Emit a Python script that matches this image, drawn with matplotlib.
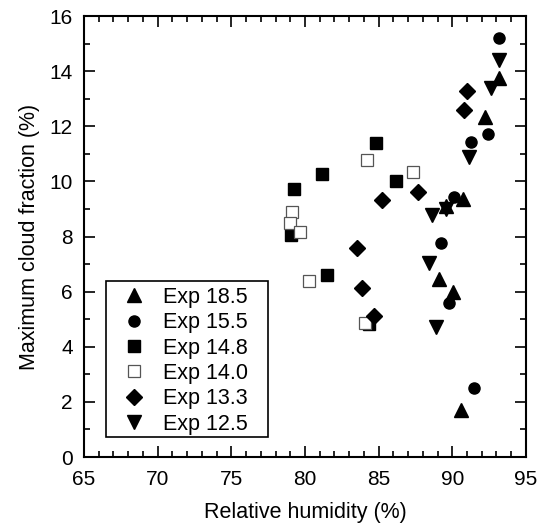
import matplotlib
matplotlib.use("Agg")
import matplotlib.pyplot as plt
from matplotlib.patches import Rectangle

plt.rcParams['font.family'] = ['Liberation Sans', 'DejaVu Sans']

# Exp 18.5 (triangle up)
rh_185 = [93.2, 92.2, 90.7, 89.6, 90.05, 89.1, 90.6]
cf_185 = [13.75, 12.34, 9.36, 9.1, 5.98, 6.46, 1.7]
# Exp 15.5 (circle)
rh_155 = [93.2, 92.4, 91.3, 90.1, 89.2, 89.8, 91.5]
cf_155 = [15.2, 11.72, 11.42, 9.44, 7.76, 5.58, 2.5]
# Exp 14.8 (filled square)
rh_148 = [84.8, 81.15, 86.2, 79.25, 79.05, 81.5, 84.35]
cf_148 = [11.38, 10.27, 10.0, 9.72, 8.06, 6.6, 4.83]
# Exp 14.0 (open square)
rh_140 = [84.2, 87.3, 79.1, 79.0, 79.67, 80.3, 84.1]
cf_140 = [10.77, 10.35, 8.89, 8.49, 8.16, 6.39, 4.86]
# Exp 13.3 (diamond)
rh_133 = [91.0, 90.8, 87.7, 85.2, 83.5, 83.9, 84.7]
cf_133 = [13.28, 12.6, 9.62, 9.33, 7.58, 6.14, 5.12]
# Exp 12.5 (triangle down)
rh_125 = [93.2, 92.6, 91.1, 88.6, 89.6, 88.4, 88.9]
cf_125 = [14.4, 13.4, 10.9, 8.78, 9.0, 7.04, 4.72]

fig = plt.figure(figsize=(5.4, 5.25), dpi=100)
ax = fig.add_axes([0.1556, 0.1295, 0.8184, 0.84])

ax.plot(rh_185, cf_185, '^', color='black', ms=10.5, ls='none', label='Exp 18.5')
ax.plot(rh_155, cf_155, 'o', color='black', ms=8, ls='none', label='Exp 15.5')
ax.plot(rh_148, cf_148, 's', color='black', ms=8, ls='none', label='Exp 14.8')
ax.plot(rh_140, cf_140, 's', mfc='white', mec='#555555', mew=0.9, ms=8, ls='none', label='Exp 14.0')
ax.plot(rh_133, cf_133, 'D', color='black', ms=8, ls='none', label='Exp 13.3')
ax.plot(rh_125, cf_125, 'v', color='black', ms=10.5, ls='none', label='Exp 12.5')

ax.set_xlim(65, 95)
ax.set_ylim(0, 16)
ax.set_xticks(range(65, 96, 5))
ax.set_xticks(range(65, 96, 1), minor=True)
ax.set_yticks(range(0, 17, 2))
ax.set_yticks(range(0, 17, 1), minor=True)
ax.tick_params(which='both', direction='in', top=True, right=True, width=1.2, labelsize=15)
ax.tick_params(which='major', length=8)
ax.tick_params(which='minor', length=4)
ax.tick_params(axis='x', which='major', pad=9)
ax.tick_params(axis='y', which='major', pad=8)
for s in ax.spines.values():
    s.set_linewidth(1.5)

ax.set_xlabel('Relative humidity (%)', fontsize=15.5, labelpad=10)
ax.set_ylabel('Maximum cloud fraction (%)', fontsize=15.5, labelpad=7)

# legend box drawn separately so the padding matches the original
ax.add_patch(Rectangle((0.05, 0.045), 0.366, 0.354, transform=ax.transAxes,
                       facecolor='white', edgecolor='black', lw=1.2, zorder=4))
leg = ax.legend(loc='upper left', bbox_to_anchor=(0.086, 0.386), fontsize=15.5, frameon=False,
                borderaxespad=0, borderpad=0, handlelength=1.1, handletextpad=0.8,
                labelspacing=0.205)
leg.set_zorder(5)

fig.savefig('out.png', dpi=100)
